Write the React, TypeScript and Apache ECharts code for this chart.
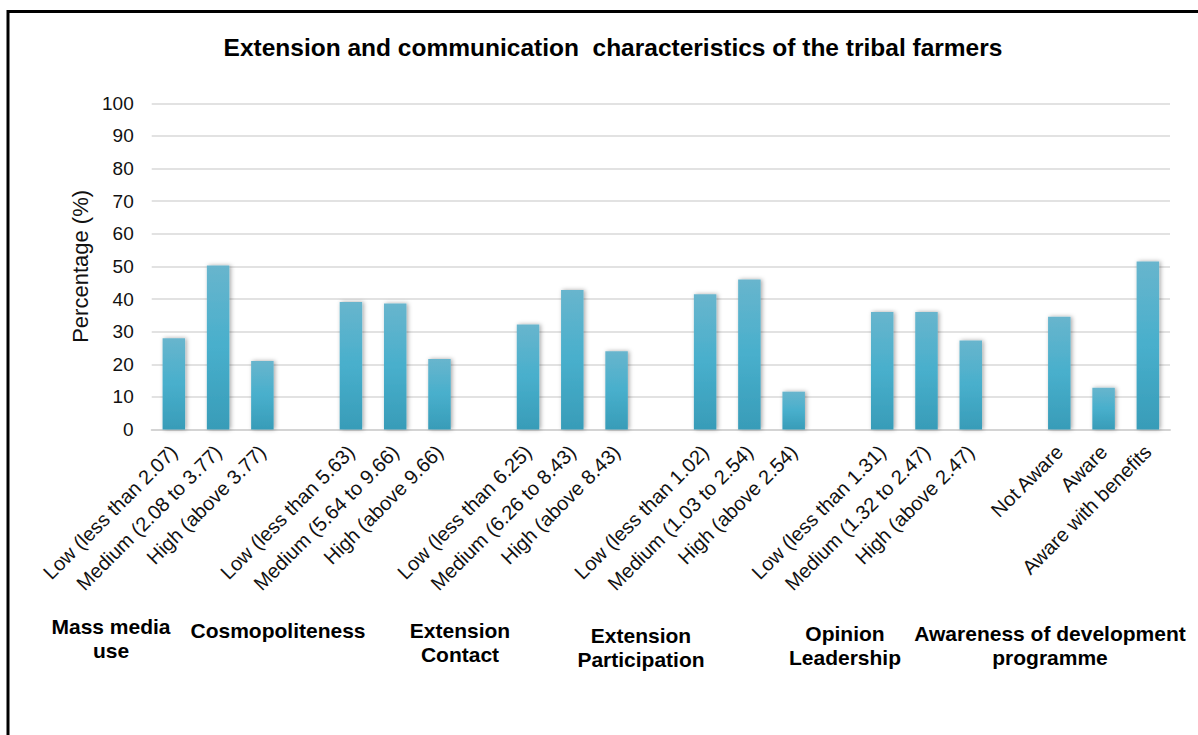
import React, { useEffect, useRef } from "react";
import * as echarts from "echarts";

const titleText = "Extension and communication  characteristics of the tribal farmers";
const yAxisName = "Percentage (%)";

const groupNames = [
  "Mass media\nuse",
  "Cosmopoliteness",
  "Extension\nContact",
  "Extension\nParticipation",
  "Opinion\nLeadership",
  "Awareness of development\nprogramme",
];

const massMediaLevels = ["Low (less than 2.07)", "Medium (2.08 to 3.77)", "High (above 3.77)"];
const massMediaValues = [28.0, 50.3, 21.0];

const cosmoLevels = ["Low (less than 5.63)", "Medium (5.64 to 9.66)", "High (above 9.66)"];
const cosmoValues = [39.1, 38.6, 21.6];

const contactLevels = ["Low (less than 6.25)", "Medium (6.26 to 8.43)", "High (above 8.43)"];
const contactValues = [32.2, 42.8, 24.0];

const participationLevels = ["Low (less than 1.02)", "Medium (1.03 to 2.54)", "High (above 2.54)"];
const participationValues = [41.5, 46.0, 11.6];

const opinionLevels = ["Low (less than 1.31)", "Medium (1.32 to 2.47)", "High (above 2.47)"];
const opinionValues = [36.0, 36.0, 27.3];

const awarenessLevels = ["Not Aware", "Aware", "Aware with benefits"];
const awarenessValues = [34.6, 12.8, 51.5];

const yTicks = [0, 10, 20, 30, 40, 50, 60, 70, 80, 90, 100];

// group label anchor positions (layout)
const groupLabelPos = [
  [111, 638],
  [278, 630],
  [460, 642],
  [641, 647],
  [845, 645],
  [1050, 645],
];

const FONT = 'Arial, "Liberation Sans", sans-serif';

export default function App() {
  const ref = useRef<HTMLDivElement>(null);

  useEffect(() => {
    if (!ref.current) return;
    const chart = echarts.init(ref.current, null, { renderer: "svg" });

    const levelGroups = [massMediaLevels, cosmoLevels, contactLevels, participationLevels, opinionLevels, awarenessLevels];
    const valueGroups = [massMediaValues, cosmoValues, contactValues, participationValues, opinionValues, awarenessValues];
    const categories: string[] = [];
    const values: (number | string)[] = [];
    levelGroups.forEach((lv, gi) => {
      if (gi > 0) {
        categories.push("");
        values.push("-");
      }
      lv.forEach((l, i) => {
        categories.push(l);
        values.push(valueGroups[gi][i]);
      });
    });

    const barColor = new echarts.graphic.LinearGradient(0, 0, 0, 1, [
      { offset: 0, color: "#68b5cd" },
      { offset: 0.5, color: "#48afcc" },
      { offset: 1, color: "#389cb8" },
    ]);

    chart.setOption({
      animation: false,
      backgroundColor: "#ffffff",
      title: {
        text: titleText,
        left: 608,
        top: 30,
        textAlign: "center",
        textStyle: { fontFamily: FONT, fontSize: 24.5, fontWeight: "bold", color: "#000" },
      },
      grid: { left: 151.7, right: 28, top: 103.3, bottom: 305.5, containLabel: false },
      xAxis: {
        type: "category",
        data: categories,
        boundaryGap: true,
        axisLine: { lineStyle: { color: "#d4d4d4", width: 2 } },
        axisTick: { show: false },
        axisLabel: {
          interval: 0,
          rotate: 45,
          margin: 19,
          fontFamily: FONT,
          fontSize: 20,
          color: "#111",
        },
      },
      yAxis: {
        type: "value",
        min: yTicks[0],
        max: yTicks[yTicks.length - 1],
        interval: 10,
        name: yAxisName,
        nameLocation: "middle",
        nameGap: 58,
        nameRotate: 90,
        nameTextStyle: { fontFamily: FONT, fontSize: 22, color: "#111" },
        axisLine: { show: false },
        axisTick: { show: false },
        axisLabel: { fontFamily: FONT, fontSize: 19, color: "#111", margin: 18 },
        splitLine: { lineStyle: { color: "#d9d9d9", width: 1.5 } },
      },
      series: [
        {
          type: "bar",
          data: values,
          barWidth: 22.5,
          itemStyle: {
            color: barColor,
            shadowColor: "rgba(0,0,0,0.35)",
            shadowBlur: 4,
            shadowOffsetX: 1.5,
            shadowOffsetY: 0,
          },
        },
      ],
      graphic: [
        {
          type: "rect",
          shape: { x: 8, y: 11.5, width: 1400, height: 1000 },
          style: { fill: "none", stroke: "#000", lineWidth: 3 },
          silent: true,
        },
        ...groupNames.map((g, i) => ({
          type: "text",
          x: groupLabelPos[i][0],
          y: groupLabelPos[i][1],
          style: {
            text: g,
            fontFamily: FONT,
            fontSize: 21,
            fontWeight: "bold",
            fill: "#000",
            align: "center",
            verticalAlign: "middle",
            lineHeight: 24,
          },
        })),
      ],
    });

    return () => chart.dispose();
  }, []);

  return (
    <div
      ref={ref}
      style={{ position: "fixed", left: 0, top: 0, width: 1198, height: 735, background: "#fff" }}
    />
  );
}
